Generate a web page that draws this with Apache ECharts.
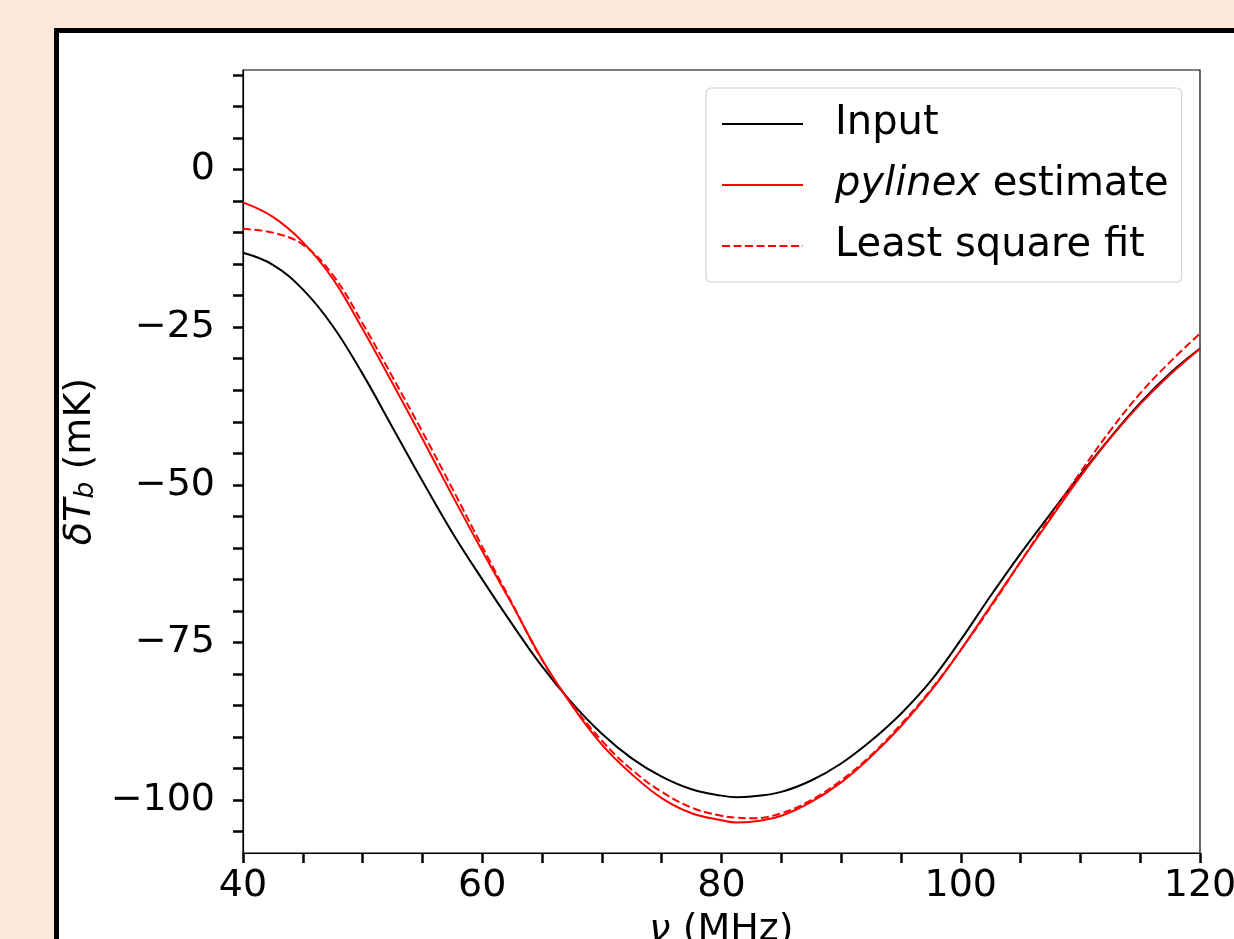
<!DOCTYPE html>
<html>
<head>
<meta charset="utf-8">
<script src="https://cdn.jsdelivr.net/npm/echarts@6/dist/echarts.min.js"></script>
<style>
  html, body { margin: 0; padding: 0; background: #fde9dc; }
  #chart { width: 1234px; height: 939px; }
</style>
</head>
<body>
<div id="chart"></div>
<script>
// frequency grid (MHz)
var freq = [40, 42.5, 45, 47.5, 50, 52.5, 55, 57.5, 60, 62.5, 65, 67.5, 70, 72.5, 75, 77.5, 80, 81.25,
  82.5, 85, 87.5, 90, 92.5, 95, 97.5, 100, 102.5, 105, 107.5, 110, 112.5, 115, 117.5, 120];

// delta T_b (mK)
var inputSignal = [-13.2, -15.1, -19.0, -24.8, -32.4, -40.9, -49.4, -57.6, -65.0, -72.1, -78.8, -84.6, -89.5,
  -93.4, -96.3, -98.3, -99.3, -99.55, -99.45, -98.7, -96.9, -94.2, -90.6, -86.3, -81.1, -74.6, -67.6, -60.9,
  -54.6, -48.4, -42.5, -37.0, -32.3, -28.4];
var pylinexEst = [-5.2, -7.5, -11.5, -17.3, -25.3, -33.9, -42.7, -51.7, -60.5, -69.0, -77.7, -85.0, -91.2,
  -95.9, -99.7, -102.1, -103.2, -103.55, -103.45, -102.5, -100.3, -97.2, -93.1, -88.3, -82.7, -76.2, -69.2,
  -62.2, -55.4, -48.7, -42.6, -37.2, -32.5, -28.4];
var lsqFit = [-9.4, -10.0, -11.9, -16.7, -24.4, -32.9, -41.6, -50.6, -59.8, -68.8, -77.8, -84.8, -90.6,
  -95.2, -98.7, -101.2, -102.5, -102.8, -102.9, -102.1, -100.0, -96.9, -92.9, -88.0, -82.5, -76.2, -69.4,
  -62.2, -55.0, -48.0, -41.4, -35.5, -30.5, -26.0];

// axis ticks and labels
var xTicks = [40, 45, 50, 55, 60, 65, 70, 75, 80, 85, 90, 95, 100, 105, 110, 115, 120];
var xLabels = [40, 60, 80, 100, 120];
var yTicks = [-105, -100, -95, -90, -85, -80, -75, -70, -65, -60, -55, -50, -45, -40, -35, -30, -25,
  -20, -15, -10, -5, 0, 5, 10, 15];
var yLabels = [-100, -75, -50, -25, 0];

var FONT = 'DejaVu Sans';

function pairs(ys) {
  return freq.map(function (f, i) { return [f, ys[i]]; });
}
function minusFmt(v) {
  return v < 0 ? '\u2212' + (-v) : String(v);
}

var chart = echarts.init(document.getElementById('chart'));
var option = {
  backgroundColor: '#fde9dc',
  animation: false,
  graphic: [{
    type: 'rect',
    z: -10,
    shape: { x: 56.5, y: 30.5, width: 1300, height: 1000 },
    style: { fill: '#fff', stroke: '#000', lineWidth: 5 }
  }],
  grid: {
    left: 243,
    right: 34,
    top: 70,
    bottom: 86,
    outerBoundsMode: 'none',
    containLabel: false,
    show: true,
    backgroundColor: '#fff',
    borderColor: '#000',
    borderWidth: 1.2
  },
  legend: {
    orient: 'vertical',
    left: 706,
    top: 88,
    padding: [13, 13, 13, 15],
    itemWidth: 81,
    itemHeight: 20,
    itemGap: 15,
    backgroundColor: 'rgba(255,255,255,0.8)',
    borderColor: '#d4d4d4',
    borderWidth: 1.2,
    borderRadius: 5,
    itemStyle: { color: 'transparent', borderWidth: 0, opacity: 0 },
    data: ['Input', 'pylinex estimate', 'Least square fit'],
    formatter: function (name) {
      return name === 'pylinex estimate' ? '{it|pylinex} estimate' : name;
    },
    textStyle: {
      fontFamily: FONT,
      fontSize: 40,
      lineHeight: 46,
      color: '#000',
      padding: [0, 0, 0, 27],
      rich: {
        it: { fontFamily: FONT, fontSize: 40, fontStyle: 'italic', color: '#000' }
      }
    }
  },
  xAxis: {
    type: 'value',
    min: 40,
    max: 120,
    name: '{it|\u03bd} (MHz)',
    nameLocation: 'middle',
    nameGap: 58,
    nameTextStyle: {
      fontFamily: FONT,
      fontSize: 38,
      color: '#000',
      rich: { it: { fontFamily: FONT, fontSize: 38, fontStyle: 'italic', color: '#000' } }
    },
    splitLine: { show: false },
    axisLine: { show: true, onZero: false, lineStyle: { color: '#000', width: 1.2 } },
    axisTick: { show: true, inside: false, length: 10, customValues: xTicks, lineStyle: { color: '#000', width: 2.5 } },
    axisLabel: { customValues: xLabels, margin: 14, fontFamily: FONT, fontSize: 38, color: '#000' }
  },
  yAxis: {
    type: 'value',
    min: -108.4,
    max: 15.8,
    name: '{it|\u03b4T}{sub|b} (mK)',
    nameLocation: 'middle',
    nameRotate: 90,
    nameGap: 133,
    nameTextStyle: {
      fontFamily: FONT,
      fontSize: 38,
      color: '#000',
      rich: {
        it: { fontFamily: FONT, fontSize: 38, fontStyle: 'italic', color: '#000', lineHeight: 40, verticalAlign: 'middle' },
        sub: { fontFamily: FONT, fontSize: 27, fontStyle: 'italic', color: '#000', lineHeight: 14, verticalAlign: 'bottom' }
      }
    },
    splitLine: { show: false },
    axisLine: { show: true, onZero: false, lineStyle: { color: '#000', width: 1.2 } },
    axisTick: { show: true, inside: false, length: 10, customValues: yTicks, lineStyle: { color: '#000', width: 2.5 } },
    axisLabel: { customValues: yLabels, margin: 28, fontFamily: FONT, fontSize: 38, color: '#000', formatter: minusFmt }
  },
  series: [
    {
      name: 'Input',
      type: 'line',
      data: pairs(inputSignal),
      symbol: 'none',
      smooth: 0.4,
      lineStyle: { color: '#000', width: 2 },
      itemStyle: { color: '#000' },
      z: 3
    },
    {
      name: 'pylinex estimate',
      type: 'line',
      data: pairs(pylinexEst),
      symbol: 'none',
      smooth: 0.4,
      lineStyle: { color: '#ff0000', width: 2 },
      itemStyle: { color: '#ff0000' },
      z: 4
    },
    {
      name: 'Least square fit',
      type: 'line',
      data: pairs(lsqFit),
      symbol: 'none',
      smooth: 0.4,
      lineStyle: { color: '#ff0000', width: 2, type: [8, 3.5] },
      itemStyle: { color: '#ff0000' },
      z: 5
    }
  ]
};
chart.setOption(option);
</script>
</body>
</html>
